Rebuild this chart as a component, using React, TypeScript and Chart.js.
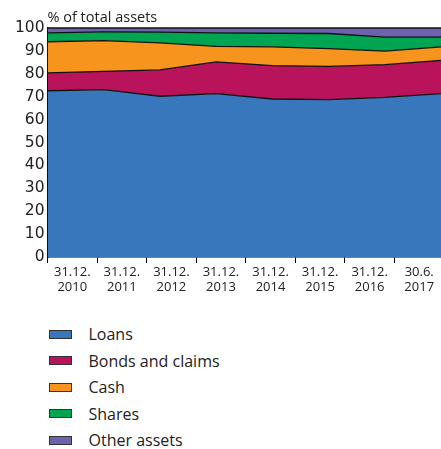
import React, { useEffect, useRef } from 'react';
import { Chart, registerables } from 'chart.js';

Chart.register(...registerables);

const categories: string[][] = [
  ['31.12.', '2010'],
  ['31.12.', '2011'],
  ['31.12.', '2012'],
  ['31.12.', '2013'],
  ['31.12.', '2014'],
  ['31.12.', '2015'],
  ['31.12.', '2016'],
  ['30.6.', '2017'],
];

const loans = [72.6, 73.1, 70.2, 71.3, 69.0, 68.7, 69.7, 71.3];
const bonds = [7.8, 8.0, 11.5, 13.9, 14.6, 14.5, 14.3, 14.6];
const cash = [13.6, 13.4, 11.8, 6.8, 8.2, 7.8, 5.9, 5.9];
const shares = [3.9, 3.8, 4.7, 5.9, 5.9, 6.6, 6.1, 4.2];
const other = [2.1, 1.7, 1.8, 2.1, 2.3, 2.4, 4.0, 4.0];

const seriesNames = ['Loans', 'Bonds and claims', 'Cash', 'Shares', 'Other assets'];
const seriesColors = ['#3877BC', '#B8135B', '#F7941E', '#00A551', '#6B63AD'];

const yTitle = '% of total assets';

export default function App() {
  const ref = useRef<HTMLCanvasElement>(null);

  useEffect(() => {
    const series = [loans, bonds, cash, shares, other];
    const titlePlugin = {
      id: 'topTitle',
      afterDraw(chart: any) {
        const ctx = chart.ctx;
        ctx.save();
        ctx.font = '14.5px "Open Sans"';
        ctx.fillStyle = '#222';
        ctx.textAlign = 'left';
        ctx.textBaseline = 'alphabetic';
        ctx.fillText(yTitle, chart.chartArea.left, 22);
        ctx.restore();
      },
    };
    const chart = new Chart(ref.current!, {
      type: 'line',
      data: {
        datasets: series.map((vals, i) => ({
          label: seriesNames[i],
          data: vals.map((v, k) => ({ x: k, y: v })),
          backgroundColor: seriesColors[i],
          borderColor: '#111',
          borderWidth: 1.3,
          pointRadius: 0,
          fill: i === 0 ? 'origin' : '-1',
          tension: 0,
          clip: 3,
          xAxisID: 'x',
          yAxisID: 'y',
        })),
      },
      options: {
        animation: false,
        responsive: false,
        plugins: { legend: { display: false }, tooltip: { enabled: false } },
        layout: { padding: { top: 28, left: 0, right: 0, bottom: 0 } },
        scales: {
          x: { type: 'linear', min: 0, max: 7.05, display: false },
          xcat: {
            type: 'category',
            labels: categories as any,
            position: 'bottom',
            offset: true,
            grid: { offset: true, drawOnChartArea: false, tickLength: 6, color: '#000', lineWidth: 1 },
            border: { color: '#000', width: 1.5 },
            ticks: {
              color: '#222',
              font: { family: '"Open Sans"', size: 13, lineHeight: 1.15 },
              padding: 2,
              maxRotation: 0,
              autoSkip: false,
            },
            afterFit(scale: any) {
              scale.height = 43;
            },
          },
          y: {
            stacked: true,
            min: 0,
            max: 100,
            grid: { drawOnChartArea: false, drawTicks: false },
            border: { color: '#000', width: 1.5 },
            ticks: {
              stepSize: 10,
              color: '#222',
              font: { family: '"DejaVu Sans"', size: 15.5 },
              padding: 3,
            },
            afterFit(scale: any) {
              scale.width = 47.5;
            },
          },
        },
      } as any,
      plugins: [titlePlugin],
    });
    return () => chart.destroy();
  }, []);

  return (
    <div style={{ position: 'absolute', left: 0, top: 0, width: 441, height: 449, overflow: 'hidden', background: '#fff' }}>
      <canvas ref={ref} width={444} height={300} style={{ display: 'block', width: 444, height: 300 }} />
      <div style={{ position: 'absolute', left: 49, top: 321, fontFamily: '"Open Sans"', fontSize: 16, color: '#222' }}>
        {seriesNames.map((name, i) => (
          <div key={name} style={{ display: 'flex', alignItems: 'center', height: 26.5 }}>
            <span
              style={{
                display: 'inline-block',
                width: 21,
                height: 7,
                background: seriesColors[i],
                border: '1px solid #333',
              }}
            />
            <span style={{ marginLeft: 16.5 }}>{name}</span>
          </div>
        ))}
      </div>
    </div>
  );
}
